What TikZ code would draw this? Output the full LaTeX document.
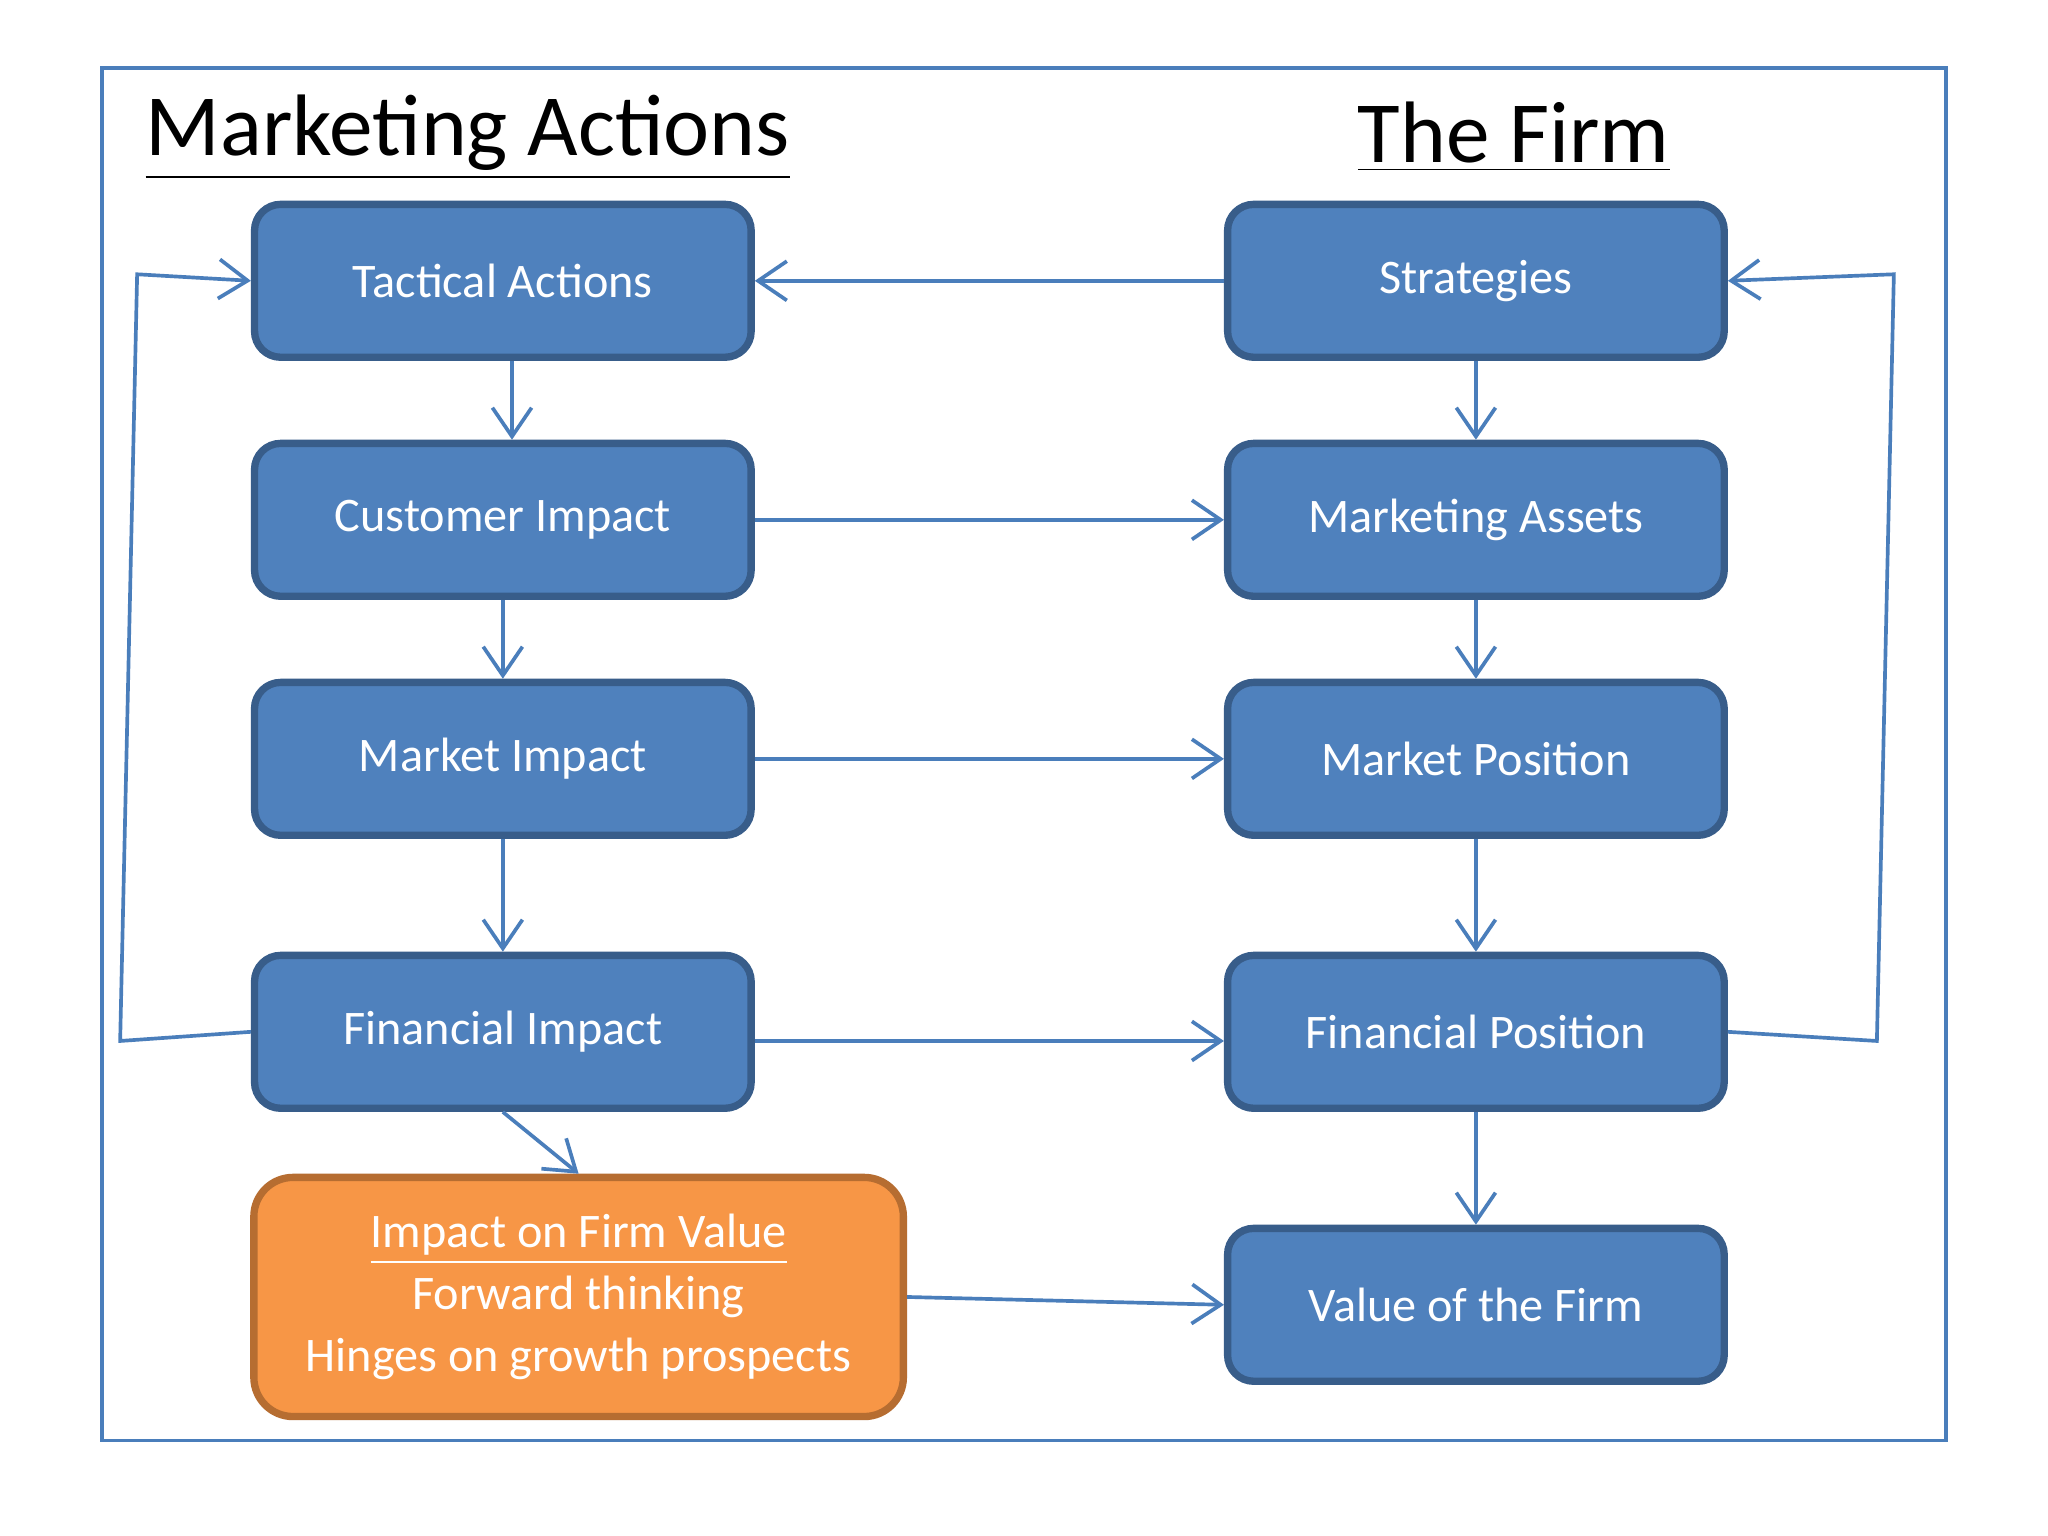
\documentclass[tikz,border=0pt]{standalone}
\usepackage{fontspec}
\setmainfont{Carlito}
\usetikzlibrary{arrows.meta}
\definecolor{bfill}{HTML}{4F81BD}
\definecolor{bdraw}{HTML}{385D8A}
\definecolor{ofill}{HTML}{F79646}
\definecolor{odraw}{HTML}{B66D31}
\definecolor{arr}{HTML}{4A7EBB}
\tikzset{
 bbox/.style={draw=bdraw,fill=bfill,line width=1.6pt,rounded corners=0.2cm,minimum width=3.8cm,minimum height=1.17cm,text=white,font=\fontsize{10.5}{12}\selectfont},
 obox/.style={draw=odraw,fill=ofill,line width=1.6pt,rounded corners=0.3cm,minimum width=4.97cm,minimum height=1.83cm,text=white,align=center,font=\fontsize{10.5}{13.5}\selectfont},
 con/.style={draw=arr,line width=0.8pt,-{Straight Barb[length=2.2mm,width=3mm]}},
 ttl/.style={font=\fontsize{19}{22}\selectfont}
}
\begin{document}
\begin{tikzpicture}[x=0.01cm,y=-0.01cm]
\useasboundingbox[fill=white] (0,0) rectangle (1568,1176);
\draw[draw=arr,line width=0.8pt] (78,52) rectangle (1490,1103);
\node[ttl] (t1) at (358,105) {\underline{Marketing Actions}};
\node[ttl] (t2) at (1159,105) {\underline{The Firm}};
\node[bbox] (ta) at (385,215) {Tactical Actions};
\node[bbox] (ci) at (385,398) {Customer Impact};
\node[bbox] (mi) at (385,581) {Market Impact};
\node[bbox] (fi) at (385,790) {Financial Impact};
\node[bbox] (st) at (1130,215) {Strategies};
\node[bbox] (ma) at (1130,398) {Marketing Assets};
\node[bbox] (mp) at (1130,581) {Market Position};
\node[bbox] (fp) at (1130,790) {Financial Position};
\node[bbox] (vf) at (1130,999) {Value of the Firm};
\node[obox] (iv) at (443,993) {\underline{Impact on Firm Value}\\Forward thinking\\Hinges on growth prospects};
\coordinate (l1) at (92,797); \coordinate (l2) at (105,210);
\coordinate (r1) at (1437,797); \coordinate (r2) at (1450,210);
\draw[con] (st.west) -- (ta.east);
\draw[con] (ta.south -| 392,0) -- (ci.north -| 392,0);
\draw[con] (ci) -- (mi);
\draw[con] (mi) -- (fi);
\draw[con] (st) -- (ma);
\draw[con] (ma) -- (mp);
\draw[con] (mp) -- (fp);
\draw[con] (fp) -- (vf);
\draw[con] (ci.east) -- (ma.west);
\draw[con] (mi.east) -- (mp.west);
\draw[con] (fi.east |- 0,797) -- (fp.west |- 0,797);
\draw[con] (fi.south) -- (iv.north);
\draw[con] (iv.east) -- (vf.west);
\draw[con] (fi.west) -- (l1) -- (l2) -- (ta.west);
\draw[con] (fp.east) -- (r1) -- (r2) -- (st.east);
\end{tikzpicture}
\end{document}
